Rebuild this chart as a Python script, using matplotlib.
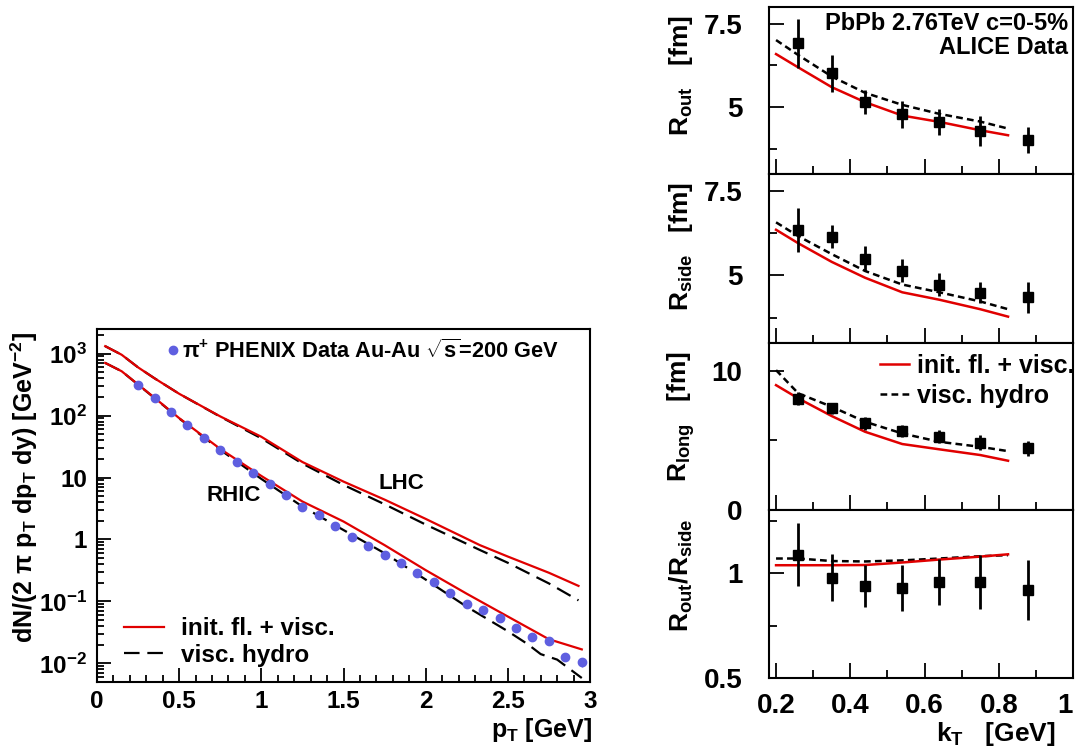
import math
import matplotlib
matplotlib.use("Agg")
import matplotlib.pyplot as plt
from matplotlib.ticker import MultipleLocator, FuncFormatter, LogLocator, NullFormatter
from matplotlib.lines import Line2D

plt.rcParams['font.family'] = ['Liberation Sans', 'DejaVu Sans']
plt.rcParams['font.weight'] = 'bold'
plt.rcParams['mathtext.fontset'] = 'custom'
plt.rcParams['mathtext.rm'] = 'Liberation Sans:bold'
plt.rcParams['mathtext.it'] = 'Liberation Sans:bold:italic'
plt.rcParams['mathtext.bf'] = 'Liberation Sans:bold'
plt.rcParams['mathtext.sf'] = 'Liberation Sans'
plt.rcParams['mathtext.default'] = 'rm'

###########################################################################
#                                  DATA                                   #
###########################################################################

# --- left panel: pion spectra ---
pt_phenix = [0.25, 0.35, 0.45, 0.55, 0.65, 0.75, 0.85, 0.95, 1.05, 1.15,
             1.25, 1.35, 1.45, 1.55, 1.65, 1.75, 1.85, 1.95, 2.05, 2.15,
             2.25, 2.35, 2.45, 2.55, 2.65, 2.75, 2.85, 2.95]
phenix = [313, 189, 115, 70, 43, 28, 17.6, 11.7, 7.8, 5.2,
          3.4, 2.47, 1.68, 1.11, 0.79, 0.56, 0.41, 0.283, 0.208, 0.135,
          0.091, 0.072, 0.054, 0.0378, 0.0267, 0.0229, 0.0129, 0.0104]
phenix_err = [0] * 27 + [0.0018]

pt_rhic = [0.05, 0.15, 0.25, 0.35, 0.5, 0.75, 1.0, 1.25, 1.5, 1.75,
           2.0, 2.25, 2.5, 2.75, 2.95]
rhic_init = [708, 520, 318, 194, 91, 29, 10.6, 4.1, 1.95, 0.81,
             0.32, 0.133, 0.057, 0.0245, 0.0168]

pt_rhic_visc = [0.05, 0.15, 0.25, 0.35, 0.5, 0.75, 1.0, 1.25, 1.5, 1.75,
                2.0, 2.25, 2.5, 2.62, 2.7, 2.8, 2.95]
rhic_visc = [708, 520, 316, 192, 90, 28, 9.5, 3.4, 1.42, 0.60,
             0.225, 0.082, 0.033, 0.0205, 0.0141, 0.0115, 0.0058]

pt_lhc = [0.05, 0.15, 0.25, 0.35, 0.5, 0.75, 1.0, 1.25, 1.5, 1.75,
          2.0, 2.33, 2.5, 2.75, 2.93]
lhc_init = [1320, 960, 600, 400, 225, 97, 45.5, 17.8, 8.6, 4.4,
            2.15, 0.81, 0.53, 0.29, 0.178]
lhc_visc = [1320, 960, 600, 400, 225, 96, 43, 16.8, 7.6, 3.7,
            1.74, 0.676, 0.42, 0.195, 0.104]

# --- right panels: HBT radii vs k_T ---
kt_data = [0.26, 0.35, 0.44, 0.54, 0.64, 0.75, 0.88]
r_out = [6.91, 6.01, 5.15, 4.79, 4.55, 4.29, 4.03]
r_out_err = [0.73, 0.55, 0.36, 0.41, 0.39, 0.45, 0.39]
r_side = [6.35, 6.14, 5.5, 5.14, 4.73, 4.48, 4.35]
r_side_err = [0.65, 0.34, 0.36, 0.34, 0.35, 0.31, 0.46]
r_long = [8.0, 7.3, 6.22, 5.68, 5.26, 4.83, 4.43]
r_long_err = [0.46, 0.42, 0.45, 0.40, 0.48, 0.55, 0.55]
ratio = [1.088, 0.978, 0.938, 0.929, 0.959, 0.959, 0.918]
ratio_err = [0.148, 0.111, 0.10, 0.11, 0.11, 0.129, 0.143]

kt_model = [0.2, 0.26, 0.35, 0.44, 0.54, 0.64, 0.75, 0.825]
r_out_init = [6.59, 6.19, 5.6, 5.15, 4.75, 4.56, 4.31, 4.16]
r_out_visc = [7.01, 6.56, 5.92, 5.43, 5.07, 4.80, 4.57, 4.36]
r_side_init = [6.35, 5.95, 5.4, 4.93, 4.5, 4.28, 4.0, 3.78]
r_side_visc = [6.57, 6.16, 5.63, 5.13, 4.73, 4.5, 4.23, 4.0]
r_long_init = [8.97, 8.02, 6.75, 5.62, 4.74, 4.36, 3.95, 3.54]
r_long_visc = [10.05, 8.38, 7.42, 6.34, 5.5, 4.9, 4.54, 4.23]
ratio_init = [1.037, 1.037, 1.037, 1.038, 1.05, 1.064, 1.078, 1.089]
ratio_visc = [1.069, 1.069, 1.057, 1.055, 1.06, 1.069, 1.08, 1.085]

###########################################################################
#                                 LAYOUT                                  #
###########################################################################

W, H = 1076, 750
RED = '#e00000'
BLUE = '#5f5fe0'


def fx(x):
    return x / W


def fy(y):
    return 1 - y / H


fig = plt.figure(figsize=(W / 100, H / 100), dpi=100)


def style(ax, major, minor, size, pad_x, pad_y):
    for s in ax.spines.values():
        s.set_linewidth(1.5)
    ax.tick_params(which='both', direction='in', top=False, right=False, width=1.3)
    ax.tick_params(which='major', length=major)
    ax.tick_params(which='minor', length=minor)
    ax.tick_params(axis='x', which='both', labelsize=size, pad=pad_x)
    ax.tick_params(axis='y', which='both', labelsize=size, pad=pad_y)


gfmt = FuncFormatter(lambda v, p: '%g' % v)


def logfmt(v, p):
    k = int(round(math.log10(v)))
    if k == 0:
        return '1'
    if k == 1:
        return '10'
    return '$10^{%d}$' % k


# ---------------------------- left panel --------------------------------
ax = fig.add_axes([fx(97), fy(682), (590 - 97) / W, (682 - 329) / H])
ax.plot(pt_lhc, lhc_visc, color='black', lw=1.6, dashes=(7, 3.5))
ax.plot(pt_rhic_visc, rhic_visc, color='black', lw=1.6, dashes=(7, 3.5))
ax.plot(pt_lhc, lhc_init, color=RED, lw=1.6)
ax.plot(pt_rhic, rhic_init, color=RED, lw=1.6)
ax.errorbar(pt_phenix, phenix, yerr=phenix_err, fmt='o', color=BLUE,
            ms=6, elinewidth=1, capsize=0)
ax.set_yscale('log')
ax.set_xlim(0, 3)
ax.set_ylim(0.005, 2500)
ax.xaxis.set_major_locator(MultipleLocator(0.5))
ax.xaxis.set_minor_locator(MultipleLocator(0.1))
ax.xaxis.set_major_formatter(gfmt)
ax.yaxis.set_major_locator(LogLocator(base=10, numticks=20))
ax.yaxis.set_minor_locator(LogLocator(base=10, subs=range(2, 10), numticks=20))
ax.yaxis.set_minor_formatter(NullFormatter())
ax.yaxis.set_major_formatter(FuncFormatter(logfmt))
style(ax, 10, 5, 17.5, 6, 7)

ax.text(0.665, 5.2, 'RHIC', fontsize=16, ha='left', va='center')
ax.text(1.716, 8.1, 'LHC', fontsize=16, ha='left', va='center')

leg = ax.legend(
    handles=[Line2D([], [], color=RED, lw=1.6),
             Line2D([], [], color='black', lw=1.6, dashes=(7, 3.5))],
    labels=['init. fl. + visc.', 'visc. hydro'],
    loc='center left', bbox_to_anchor=(fx(124), fy(642)), bbox_transform=fig.transFigure,
    frameon=False, fontsize=17.5, handlelength=1.65, handletextpad=0.7,
    labelspacing=0.15, borderpad=0, borderaxespad=0)
ax.add_artist(leg)
ax.legend(
    handles=[Line2D([], [], color=BLUE, marker='o', ms=6, ls='none')],
    labels=[r'$\pi^{+}$ PHENIX Data Au-Au $\sqrt{s}$=200 GeV'],
    loc='center left', bbox_to_anchor=(fx(166), fy(351)), bbox_transform=fig.transFigure,
    frameon=False, fontsize=15.7, handlelength=0.6, handletextpad=0.15,
    borderpad=0, borderaxespad=0)

fig.text(fx(24), fy(332), 'dN/(2 \u03c0 p$_{T}$ dp$_{T}$ dy) [GeV$^{-2}$]',
         rotation=90, ha='center', va='top', fontsize=18)
fig.text(fx(592), fy(716), 'p$_{T}$ [GeV]', ha='right', va='top', fontsize=18)

# ---------------------------- right panels -------------------------------
tops = [7, 174, 343, 510]
bots = [174, 343, 510, 678]
panels = [
    (r_out, r_out_err, r_out_init, r_out_visc, (3, 8), 2.5, 1.25,
     'R$_{out}$   $\\mathsf{[fm]}$'),
    (r_side, r_side_err, r_side_init, r_side_visc, (3, 8), 2.5, 1.25,
     'R$_{side}$   $\\mathsf{[fm]}$'),
    (r_long, r_long_err, r_long_init, r_long_visc, (0, 12), 10, 5,
     'R$_{long}$   $\\mathsf{[fm]}$'),
    (ratio, ratio_err, ratio_init, ratio_visc, (0.5, 1.3), 0.5, 0.25,
     'R$_{out}$/R$_{side}$'),
]

for i, (vals, errs, init, visc, ylim, maj, mnr, lab) in enumerate(panels):
    a = fig.add_axes([fx(769), fy(bots[i]), (1073 - 769) / W, (bots[i] - tops[i]) / H])
    a.plot(kt_model, visc, color='black', lw=1.8, dashes=(2.7, 1.7), label='visc. hydro')
    a.plot(kt_model, init, color=RED, lw=1.8, label='init. fl. + visc.')
    a.errorbar(kt_data, vals, yerr=errs, fmt='s', color='black', ms=6.5,
               elinewidth=2, capsize=0)
    a.set_xlim(0.181, 1.0)
    a.set_ylim(*ylim)
    a.xaxis.set_major_locator(MultipleLocator(0.2))
    a.xaxis.set_minor_locator(MultipleLocator(0.1))
    a.xaxis.set_major_formatter(gfmt)
    a.yaxis.set_major_locator(MultipleLocator(maj))
    a.yaxis.set_minor_locator(MultipleLocator(mnr))
    a.yaxis.set_major_formatter(gfmt)
    style(a, 11, 5.5, 20, 11, 19)
    if i < 3:
        a.tick_params(axis='x', labelbottom=False)
    else:
        fig.canvas.draw()
        for t in a.get_xticklabels():
            if t.get_text() == '1':
                t.set_horizontalalignment('right')
                t.set_x(1.003)
    fig.text(fx(681), fy(tops[i] + 8), lab, rotation=90, ha='center', va='top',
             fontsize=19)
    if i == 0:
        a.text(0.985, 0.9, 'PbPb 2.76TeV c=0-5%', transform=a.transAxes,
               ha='right', va='center', fontsize=17)
        a.text(0.985, 0.76, 'ALICE Data', transform=a.transAxes,
               ha='right', va='center', fontsize=17)
    if i == 2:
        h, l = a.get_legend_handles_labels()
        a.legend(h[::-1], l[::-1], loc='center left',
                 bbox_to_anchor=(fx(880), fy(381)), bbox_transform=fig.transFigure,
                 frameon=False, fontsize=18, handlelength=1.16, handletextpad=0.32,
                 labelspacing=0.25, borderpad=0, borderaxespad=0)

fig.text(fx(1056), fy(720), 'k$_{T}$   $\\mathsf{[}$GeV$\\mathsf{]}$',
         ha='right', va='top', fontsize=19)

fig.savefig('out.png', dpi=100)
